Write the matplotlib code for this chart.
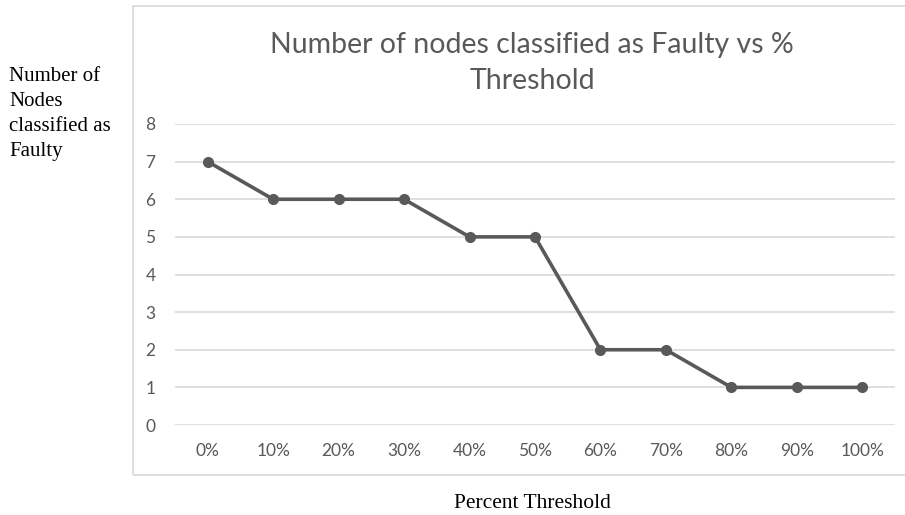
import matplotlib
matplotlib.use("Agg")
import matplotlib.pyplot as plt
from matplotlib.patches import Rectangle

categories = ["0%", "10%", "20%", "30%", "40%", "50%", "60%", "70%", "80%", "90%", "100%"]
faulty_nodes = [7, 6, 6, 6, 5, 5, 2, 2, 1, 1, 1]
y_ticks = [0, 1, 2, 3, 4, 5, 6, 7, 8]

W, H = 905, 515
fig = plt.figure(figsize=(W / 100, H / 100), dpi=100)

# chart border
fig.patches.append(Rectangle((133 / W, 1 - 475 / H), (W - 133 + 5) / W, (475 - 6) / H,
                             transform=fig.transFigure, fill=False,
                             edgecolor="#d9d9d9", linewidth=1.2))

ax = fig.add_axes([175 / W, 1 - 425 / H, (895 - 175) / W, (425 - 124) / H])
x = list(range(len(categories)))
ax.plot(x, faulty_nodes, color="#595959", linewidth=2.6, marker="o", markersize=7,
        solid_capstyle="round", zorder=3)
ax.set_xlim(-0.5, len(categories) - 0.5)
ax.set_ylim(0, 8)
ax.set_yticks(y_ticks)
ax.set_xticks(x)
ax.set_xticklabels(categories)
ax.grid(axis="y", color="#d9d9d9", linewidth=1.2)
ax.set_axisbelow(True)
for s in ax.spines.values():
    s.set_visible(False)
ax.tick_params(length=0, labelcolor="#595959", labelsize=12.5)
ax.tick_params(axis="x", pad=13)
ax.tick_params(axis="y", pad=14)
for lab in ax.get_xticklabels() + ax.get_yticklabels():
    lab.set_family("Lato")

fig.text(532 / W, 1 - 63 / H, "Number of nodes classified as Faulty vs %\nThreshold",
         ha="center", va="center", fontsize=20.5, color="#595959", family="Lato",
         linespacing=1.5)

fig.text(9 / W, 1 - 114 / H, "Number of\nNodes\nclassified as\nFaulty",
         ha="left", va="center", fontsize=15, color="black", family="Liberation Serif",
         linespacing=1.44)

fig.text(532 / W, 1 - 503 / H, "Percent Threshold", ha="center", va="center",
         fontsize=15.5, color="black", family="Liberation Serif")

fig.savefig("out.png", dpi=100)
